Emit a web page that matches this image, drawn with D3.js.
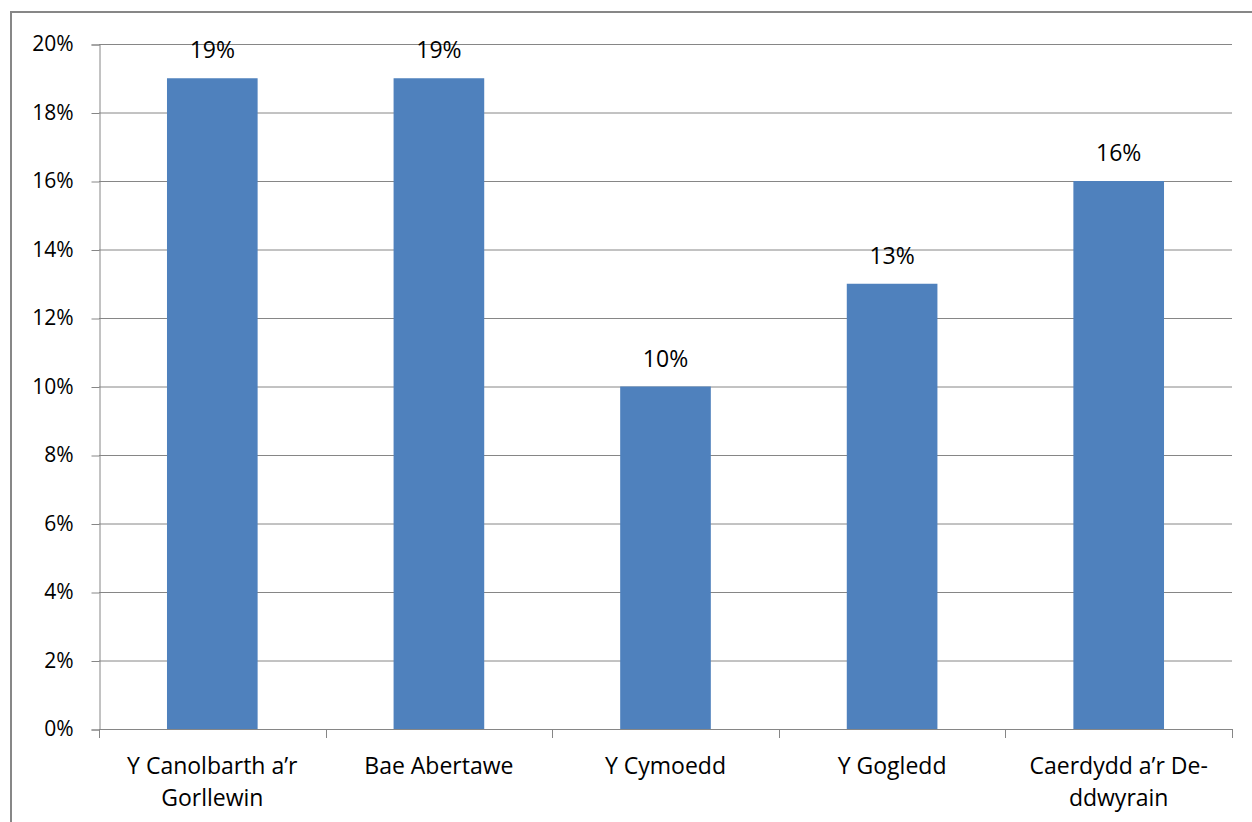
<!DOCTYPE html>
<html><head><meta charset="utf-8">
<script src="https://cdn.jsdelivr.net/npm/d3@7"></script>
<style>body{margin:0;background:#fff;} svg{display:block;}</style>
</head><body>
<svg id="c" width="1252" height="822"></svg>
<script>
const categories = [["Y Canolbarth a\u2019r","Gorllewin"],["Bae Abertawe"],["Y Cymoedd"],["Y Gogledd"],["Caerdydd a\u2019r De-","ddwyrain"]];
const values = [19, 19, 10, 13, 16];
const yTicks = [0,2,4,6,8,10,12,14,16,18,20];

(function(){
const svg = d3.select("#c");
const font = "'Open Sans', Lato, sans-serif";
const pLeft = 99, pRight = 1232, pTop = 44, pBottom = 729;

// chart frame
svg.append("rect").attr("x",11).attr("y",12).attr("width",1260).attr("height",830)
  .attr("fill","none").attr("stroke","#878787").attr("stroke-width",2);

const x = d3.scaleBand().domain(d3.range(values.length)).range([pLeft,pRight]).paddingInner(0.6).paddingOuter(0.3);
const y = d3.scaleLinear().domain([0,20]).range([pBottom,pTop]);

// gridlines
svg.append("g").selectAll("line").data(yTicks.filter(d=>d>0)).join("line")
  .attr("x1",pLeft).attr("x2",pRight).attr("y1",d=>y(d)+0.5).attr("y2",d=>y(d)+0.5)
  .attr("stroke","#868686").attr("stroke-width",1);

// y axis
const ya = svg.append("g").attr("transform",`translate(${pLeft+0.5},0.5)`)
  .call(d3.axisLeft(y).tickValues(yTicks).tickFormat(d=>d+"%").tickSize(8).tickPadding(18));
ya.select(".domain").attr("stroke","#868686");
ya.selectAll(".tick line").attr("stroke","#868686");
ya.selectAll("text").attr("font-family",font).attr("font-size",21).attr("fill","#000").attr("dy","0.3em");

// bars
svg.append("g").selectAll("rect").data(values).join("rect")
  .attr("x",(d,i)=>x(i)).attr("width",x.bandwidth())
  .attr("y",d=>y(d)).attr("height",d=>pBottom-y(d)).attr("fill","#4F81BD");

// x axis
const xb = d3.range(values.length+1).map(i=>pLeft + i*x.step());
svg.append("line").attr("x1",pLeft).attr("x2",pRight).attr("y1",pBottom+0.5).attr("y2",pBottom+0.5).attr("stroke","#868686");
svg.append("g").selectAll("line").data(xb).join("line")
  .attr("x1",d=>Math.round(d)+0.5).attr("x2",d=>Math.round(d)+0.5).attr("y1",pBottom).attr("y2",pBottom+9)
  .attr("stroke","#868686");

// category labels
const cl = svg.append("g").selectAll("text").data(categories).join("text")
  .attr("x",(d,i)=>x(i)+x.bandwidth()/2).attr("y",774)
  .attr("text-anchor","middle").attr("font-family",font).attr("font-size",23).attr("fill","#000");
cl.selectAll("tspan").data(d=>d).join("tspan")
  .attr("x",function(){return this.parentNode.getAttribute("x");})
  .attr("dy",(d,i)=>i===0?0:32).text(d=>d);

// value labels
svg.append("g").selectAll("text").data(values).join("text")
  .attr("x",(d,i)=>x(i)+x.bandwidth()/2).attr("y",d=>y(d)-20)
  .attr("text-anchor","middle").attr("font-family",font).attr("font-size",23).attr("fill","#000")
  .text(d=>d+"%");
})();
</script>
</body></html>
